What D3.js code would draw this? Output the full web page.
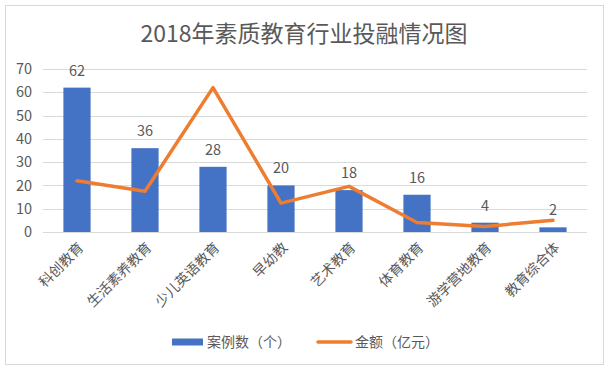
<!DOCTYPE html>
<html>
<head>
    <meta charset="utf-8">
    <title>2018年素质教育行业投融情况图</title>
    <script src="https://d3js.org/d3.v7.min.js"></script>
    <style>
        body { margin: 0; background: #fff; font-family: "Noto Sans CJK SC", "Noto Sans", sans-serif; }
        text { fill: #595959; }
        .grid line { stroke: #d9d9d9; stroke-width: 1px; }
    </style>
</head>
<body>
    <div id="chart"></div>
    <script>
        // Data
        const categories = ["科创教育", "生活素养教育", "少儿英语教育", "早幼教", "艺术教育", "体育教育", "游学营地教育", "教育综合体"];
        const caseCounts = [62, 36, 28, 20, 18, 16, 4, 2];
        const amounts = [22, 17.5, 62, 12.4, 19.6, 4.1, 2.4, 5];
        const yTicks = [0, 10, 20, 30, 40, 50, 60, 70];
        const seriesNames = ["案例数（个）", "金额（亿元）"];

        const width = 610, height = 370;
        const margin = { top: 69, right: 23, bottom: 138, left: 43 };

        const svg = d3.select("#chart").append("svg")
            .attr("width", width)
            .attr("height", height);

        // chart frame
        svg.append("rect")
            .attr("x", 5.5).attr("y", 5.5)
            .attr("width", 598).attr("height", 359)
            .attr("fill", "#fff")
            .attr("stroke", "#d9d9d9");

        svg.append("text")
            .attr("x", 304)
            .attr("y", 42)
            .attr("text-anchor", "middle")
            .style("font-size", "23px")
            .text("2018年素质教育行业投融情况图");

        const x = d3.scaleBand()
            .domain(categories)
            .range([margin.left, width - margin.right])
            .paddingInner(0.6)
            .paddingOuter(0.3);

        const y = d3.scaleLinear()
            .domain([0, 70])
            .range([height - margin.bottom, margin.top]);

        // gridlines
        const grid = svg.append("g").attr("class", "grid");
        grid.selectAll("line")
            .data(yTicks)
            .enter().append("line")
            .attr("x1", margin.left)
            .attr("x2", width - margin.right)
            .attr("y1", d => Math.round(y(d)) + 0.5)
            .attr("y2", d => Math.round(y(d)) + 0.5);

        // y tick labels
        svg.append("g").selectAll("text")
            .data(yTicks)
            .enter().append("text")
            .attr("x", 32)
            .attr("y", d => y(d))
            .attr("dy", "0.35em")
            .attr("text-anchor", "end")
            .style("font-size", "14.5px")
            .text(d => d);

        // bars
        svg.append("g").selectAll("rect")
            .data(caseCounts)
            .enter().append("rect")
            .attr("x", (d, i) => x(categories[i]))
            .attr("y", d => y(d))
            .attr("width", x.bandwidth())
            .attr("height", d => y(0) - y(d))
            .attr("fill", "#4472c4");

        // bar value labels
        svg.append("g").selectAll("text")
            .data(caseCounts)
            .enter().append("text")
            .attr("x", (d, i) => x(categories[i]) + x.bandwidth() / 2)
            .attr("y", d => y(d) - 12)
            .attr("text-anchor", "middle")
            .style("font-size", "14.5px")
            .text(d => d);

        // amount line
        const line = d3.line()
            .x((d, i) => x(categories[i]) + x.bandwidth() / 2)
            .y(d => y(d));

        svg.append("path")
            .datum(amounts)
            .attr("d", line)
            .attr("fill", "none")
            .attr("stroke", "#ed7d31")
            .attr("stroke-width", 3.5)
            .attr("stroke-linejoin", "round")
            .attr("stroke-linecap", "round");

        // x labels, rotated
        svg.append("g").selectAll("text")
            .data(categories)
            .enter().append("text")
            .attr("transform", d => `translate(${x(d) + x.bandwidth() / 2 + 4}, ${y(0) + 13}) rotate(-45)`)
            .attr("text-anchor", "end")
            .attr("dy", "0.35em")
            .style("font-size", "14px")
            .text(d => d);

        // legend
        const legend = svg.append("g").attr("transform", "translate(0, 342)");
        legend.append("rect")
            .attr("x", 172).attr("y", -3.5)
            .attr("width", 31).attr("height", 7)
            .attr("fill", "#4472c4");
        legend.append("text")
            .attr("x", 207).attr("dy", "0.35em")
            .style("font-size", "14px")
            .text(seriesNames[0]);
        legend.append("line")
            .attr("x1", 318).attr("x2", 351)
            .attr("stroke", "#ed7d31")
            .attr("stroke-width", 3.5)
            .attr("stroke-linecap", "round");
        legend.append("text")
            .attr("x", 355).attr("dy", "0.35em")
            .style("font-size", "14px")
            .text(seriesNames[1]);
    </script>
</body>
</html>
